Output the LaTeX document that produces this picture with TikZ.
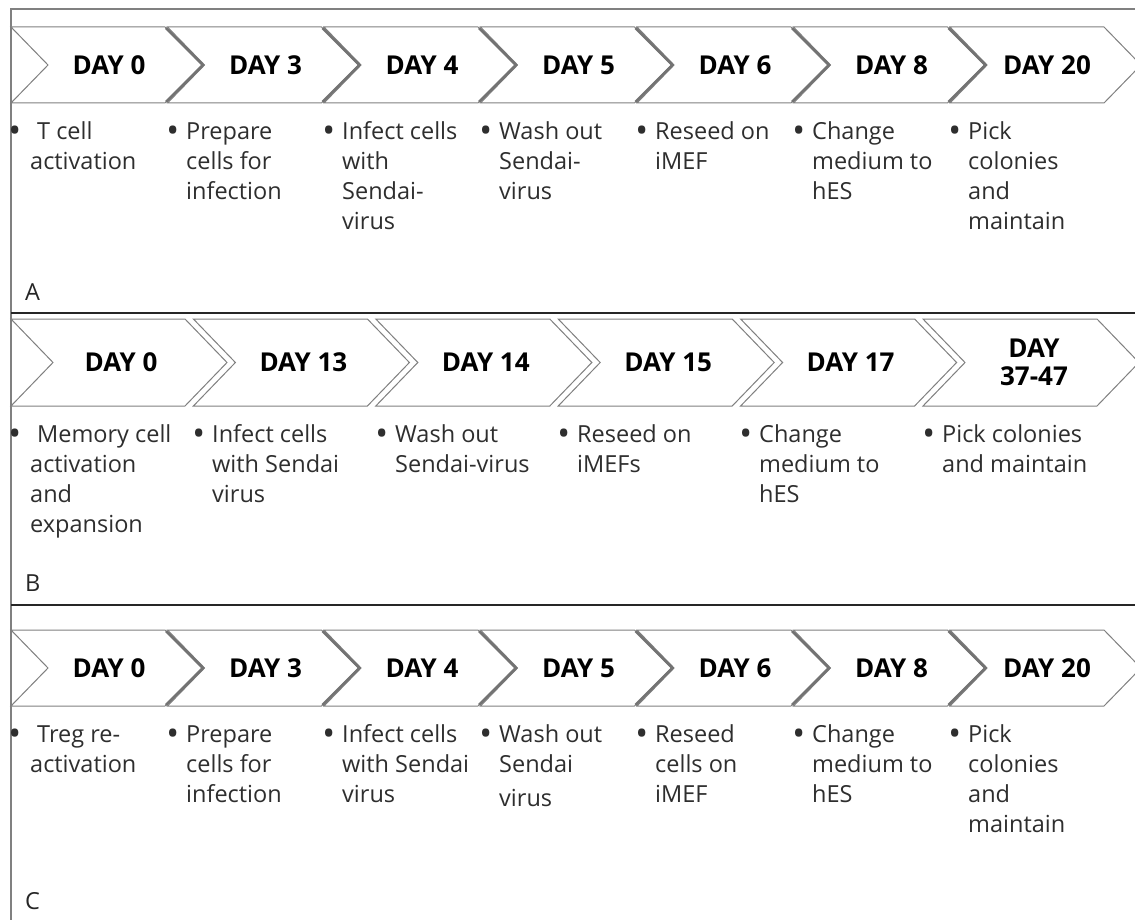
\documentclass[tikz,border=0pt]{standalone}
\usepackage{fontspec}
\usepackage{graphicx}
\setmainfont{Open Sans}
\newcommand\bigdot{\raisebox{-3.2pt}{\scalebox{1.45}{•}}}
\newcommand\mybul{\llap{\bigdot\hspace{7pt}}}
\newcommand\mybulw{\llap{\bigdot\hspace{9pt}}\hspace{7pt}}
\newcommand\chevron[5]{\path[chev] (#1,#2) -- ++(#4,0) -- ++(#5,#3/2) -- ++(-#5,#3/2) -- ++(-#4,0) -- ++(#5,-#3/2) -- cycle;}
\newcommand\chevtip[5]{\draw[chevshade] (#1+#4+1,#2+1) -- ++(#5,#3/2-1) -- ++(-#5,#3/2-1);}
\tikzset{
  chev/.style={fill=white, draw=black!50, line width=1pt, line join=miter},
  chevshade/.style={draw=black!55, line width=2.8pt},
  daylbl/.style={font=\fontsize{26}{28}\selectfont\bfseries, text=black, align=center, inner sep=0},
  bul/.style={anchor=north west, align=left, inner sep=0, font=\fontsize{23.5}{30}\selectfont, text=black!82},
  divider/.style={draw=black!85, line width=1.6pt},
  frame/.style={draw=black!50, line width=2.2pt},
  panellbl/.style={anchor=base west, inner sep=0, font=\fontsize{23.5}{30}\selectfont, text=black!85}
}
\begin{document}
\begin{tikzpicture}[x=1pt,y=-1pt]
\useasboundingbox (0,0) rectangle (1135,920);
\clip (0,0) rectangle (1135,920);
\fill[white] (0,0) rectangle (1135,920);
% frame
\coordinate (ftl) at (11,9);
\coordinate (ftr) at (1135,9);
\coordinate (fbl) at (11,920);
\draw[frame] (ftr) -- (ftl) -- (fbl);
\coordinate (d1l) at (11,313);
\coordinate (d1r) at (1135,313);
\coordinate (d2l) at (11,605);
\coordinate (d2r) at (1135,605);
\draw[divider] (d1l) -- (d1r);
\draw[divider] (d2l) -- (d2r);

% ---------- Panel A ----------
\chevron{11}{27}{76}{154}{37}
\chevron{167.5}{27}{76}{154}{37}
\chevron{324}{27}{76}{154}{37}
\chevron{480.5}{27}{76}{154}{37}
\chevron{637}{27}{76}{154}{37}
\chevron{793.5}{27}{76}{154}{37}
\chevron{950}{27}{76}{154}{37}
\chevtip{11}{27}{76}{154}{37}
\chevtip{167.5}{27}{76}{154}{37}
\chevtip{324}{27}{76}{154}{37}
\chevtip{480.5}{27}{76}{154}{37}
\chevtip{637}{27}{76}{154}{37}
\chevtip{793.5}{27}{76}{154}{37}
\node[daylbl] (a1) at (109,65) {DAY 0};
\node[daylbl] (a2) at (265.5,65) {DAY 3};
\node[daylbl] (a3) at (422,65) {DAY 4};
\node[daylbl] (a4) at (578.5,65) {DAY 5};
\node[daylbl] (a5) at (735,65) {DAY 6};
\node[daylbl] (a6) at (891.5,65) {DAY 8};
\node[daylbl] (a7) at (1047,65) {DAY 20};
\node[bul] (ta1) at (30,118) {\strut\mybulw T cell\\activation};
\node[bul] (ta2) at (186,118) {\strut\mybul Prepare\\cells for\\infection};
\node[bul] (ta3) at (342,118) {\strut\mybul Infect cells\\with\\Sendai-\\virus};
\node[bul] (ta4) at (499,118) {\strut\mybul Wash out\\Sendai-\\virus};
\node[bul] (ta5) at (655,118) {\strut\mybul Reseed on\\iMEF};
\node[bul] (ta6) at (812,118) {\strut\mybul Change\\medium to\\hES};
\node[bul] (ta7) at (968,118) {\strut\mybul Pick\\colonies\\and\\maintain};
\node[panellbl] (la) at (25,300) {A};

% ---------- Panel B ----------
\chevron{11}{319}{87}{174}{42}
\chevron{193.4}{319}{87}{174}{42}
\chevron{375.8}{319}{87}{174}{42}
\chevron{558.2}{319}{87}{174}{42}
\chevron{740.6}{319}{87}{174}{42}
\chevron{923}{319}{87}{174}{42}
\node[daylbl] (b1) at (121,362.5) {DAY 0};
\node[daylbl] (b2) at (303.4,362.5) {DAY 13};
\node[daylbl] (b3) at (485.8,362.5) {DAY 14};
\node[daylbl] (b4) at (668.2,362.5) {DAY 15};
\node[daylbl] (b5) at (850.6,362.5) {DAY 17};
\node[daylbl] (b6) at (1034,362.5) {DAY\\37-47};
\node[bul] (tb1) at (30,421) {\strut\mybulw Memory cell\\activation\\and\\expansion};
\node[bul] (tb2) at (212,421) {\strut\mybul Infect cells\\with Sendai\\virus};
\node[bul] (tb3) at (395,421) {\strut\mybul Wash out\\Sendai-virus};
\node[bul] (tb4) at (577,421) {\strut\mybul Reseed on\\iMEFs};
\node[bul] (tb5) at (759,421) {\strut\mybul Change\\medium to\\hES};
\node[bul] (tb6) at (942,421) {\strut\mybul Pick colonies\\and maintain};
\node[panellbl] (lb) at (25,591) {B};

% ---------- Panel C ----------
\chevron{11}{630}{76}{154}{37}
\chevron{167.5}{630}{76}{154}{37}
\chevron{324}{630}{76}{154}{37}
\chevron{480.5}{630}{76}{154}{37}
\chevron{637}{630}{76}{154}{37}
\chevron{793.5}{630}{76}{154}{37}
\chevron{950}{630}{76}{154}{37}
\chevtip{11}{630}{76}{154}{37}
\chevtip{167.5}{630}{76}{154}{37}
\chevtip{324}{630}{76}{154}{37}
\chevtip{480.5}{630}{76}{154}{37}
\chevtip{637}{630}{76}{154}{37}
\chevtip{793.5}{630}{76}{154}{37}
\node[daylbl] (c1) at (109,668) {DAY 0};
\node[daylbl] (c2) at (265.5,668) {DAY 3};
\node[daylbl] (c3) at (422,668) {DAY 4};
\node[daylbl] (c4) at (578.5,668) {DAY 5};
\node[daylbl] (c5) at (735,668) {DAY 6};
\node[daylbl] (c6) at (891.5,668) {DAY 8};
\node[daylbl] (c7) at (1047,668) {DAY 20};
\node[bul] (tc1) at (30,721) {\strut\mybulw Treg re-\\activation};
\node[bul] (tc2) at (186,721) {\strut\mybul Prepare\\cells for\\infection};
\node[bul] (tc3) at (342,721) {\strut\mybul Infect cells\\with Sendai\\virus};
\node[bul] (tc4) at (499,721) {\strut\mybul Wash out\\Sendai\\[4pt]virus};
\node[bul] (tc5) at (655,721) {\strut\mybul Reseed\\cells on\\iMEF};
\node[bul] (tc6) at (812,721) {\strut\mybul Change\\medium to\\hES};
\node[bul] (tc7) at (968,721) {\strut\mybul Pick\\colonies\\and\\maintain};
\node[panellbl] (lc) at (25,909) {C};
\end{tikzpicture}
\end{document}
